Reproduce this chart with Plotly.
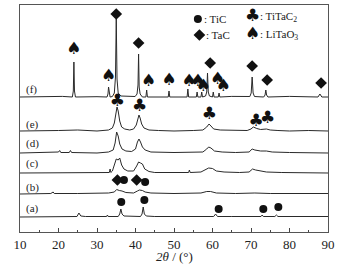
import plotly.graph_objects as go

# ---- data (2theta, intensity above each trace baseline) ----
f_pts = [(10,0),(15,0.6),(18,0.3),(21,0.6),(23.6,0),(23.85,6),(24.0,35),(24.15,6),(24.4,0),(28,0.6),(30,0.3),
         (32.6,0),(32.85,3),(33.0,10),(33.15,3),(33.4,0),(34.0,0.5),(34.5,4),(34.8,20),(35.0,78),(35.2,18),
         (35.5,4),(36.2,1),(39.9,0.5),(40.4,3),(40.65,12),(40.8,43),(40.95,10),(41.2,3),(41.8,0),(42.7,0),
         (42.9,7),(43.1,0),(48.5,0),(48.7,6),(48.9,0),(53.4,0),(53.6,8),(53.8,0),(55.8,0),(56.0,5),(56.2,0),
         (57.0,0),(57.2,5),(57.4,0),(58.2,1),(58.5,5),(58.7,24),(58.9,5),(59.2,1),(60.0,0),(60.2,5),(60.4,0),
         (61.5,0),(61.7,4),(61.9,0),(65,0.6),(69.7,0.5),(70.05,4),(70.3,20),(70.55,4),(70.9,0.5),(73.3,0),
         (73.65,2),(73.85,7),(74.05,2),(74.4,0),(80,0.6),(87.4,0),(87.9,3),(88.4,0),(90,0)]
e_pts = [(10,0),(15,0.6),(20,0.5),(25,1),(30,0),(33,1),(34,3),(34.5,8),(34.9,18),(35.2,24),(35.5,20),
         (35.9,10),(36.4,4),(37.2,2),(38.5,1),(39.5,2),(40.2,6),(40.6,13),(40.9,16),(41.2,13),(41.6,7),
         (42.2,3),(43.5,1),(46,0.5),(50,0),(55,0.5),(57.5,1),(58.5,4),(59.1,7),(59.6,5),(60.3,2),(62,1),
         (65,0.5),(69,0.5),(70,2),(70.6,4),(71.5,2.5),(72.5,1.5),(74,2),(75,1),(77,0.5),(80,0),(85,0.5),(90,0)]
d_pts = [(10,0),(15,0.5),(18,0.5),(20,1),(20.3,2.5),(20.6,0.5),(22.8,0.5),(23.1,2.5),(23.4,0.5),(30,0),
         (33,1),(34.2,3),(34.7,10),(35.1,21),(35.5,17),(35.9,9),(36.5,4),(37.5,2),(39,1.5),(40,4),(40.5,11),
         (40.9,14),(41.3,11),(41.8,6),(42.5,3),(44,1),(50,0.5),(55,0.5),(57.5,1),(58.5,4),(59.0,6),(59.6,5),
         (60.5,2),(62.5,1),(66,0.5),(69.5,1),(70.3,4),(71,3),(72.5,2),(74,2),(75.5,1),(80,0.5),(90,0)]
c_pts = [(10,0),(20,0.5),(25,0),(30,0.5),(33.2,0.5),(33.4,4),(33.6,0.5),(34,2),(34.6,8),(35.0,14),
         (35.5,13),(35.9,15),(36.4,8),(37,4),(38,2),(39.5,2),(40.3,7),(40.8,11),(41.3,10),(41.8,9),(42.4,4),
         (43.5,1.5),(45,0.5),(50,0.5),(53.8,0.5),(54.0,3),(54.2,0.5),(57,1),(58,3),(59,5),(60,4.5),(61,2),
         (63,1),(67,0.5),(69.5,1),(70.4,4),(71.2,3),(72.5,2),(74,1),(78,0.5),(90,0)]
b_pts = [(10,0),(15,0.5),(18,0.5),(18.6,2),(18.9,0.5),(25,0.5),(30,0.5),(33,1),(34.5,2),(35.1,4.5),
         (35.8,3.5),(36.5,3),(37.5,1.5),(39.5,1),(40.5,3),(41,4),(41.8,3.5),(42.5,2),(44,1),(50,0.5),(57,1),
         (58.5,2.5),(59.5,2.5),(61,1),(66,0.5),(70,1.5),(71,1),(75,0.5),(90,0.5)]
a_pts = [(10,0),(20,0),(24.8,0.5),(25.3,4),(25.8,1),(27,0.5),(32.5,0.5),(32.7,2),(32.9,0.5),(35.5,0.5),
         (35.9,3),(36.2,8),(36.5,3),(37,1),(41.3,0.5),(41.7,3),(42.0,10),(42.3,3),(42.8,1),(45,0.5),(55,0.5),
         (60.3,0.5),(60.8,3),(61.3,0.5),(65,0.5),(72.6,0.5),(72.9,2),(73.2,0.5),(76.2,0.5),(76.6,2),(77,0.5),
         (85,0.5),(90,0.5)]

trace_names = ["(a)", "(b)", "(c)", "(d)", "(e)", "(f)"]
trace_pts = [a_pts, b_pts, c_pts, d_pts, e_pts, f_pts]
baselines = [15, 38, 59, 79, 101, 135]
label_y = [24, 45, 69, 89, 108, 143]

# phase markers (2theta, vertical position)
tic_marks = [(37.0, 52), (42.5, 50), (36.3, 30), (42.3, 32), (61.6, 23), (73.2, 23), (77.1, 25)]
tac_marks = [(35.0, 218), (40.8, 189), (59.4, 169), (70.3, 166), (74.2, 152), (88.2, 149), (35.3, 52), (40.3, 52)]
titac_marks = [(35.3, 130), (41.1, 125), (59.2, 117), (71.3, 110), (74.3, 113)]
litao_marks = [(24.0, 182), (33.0, 155), (43.4, 150), (48.7, 151), (53.9, 150), (56.2, 150), (57.6, 145),
               (61.3, 152), (62.8, 145)]

x_ticks = [10, 20, 30, 40, 50, 60, 70, 80, 90]

SYM = "DejaVu Sans"
serif = "Liberation Serif, Times New Roman, serif"
INK = "#111"

fig = go.Figure()
for pts, base in zip(trace_pts, baselines):
    xs = [p[0] for p in pts]
    ys = [p[1] + base for p in pts]
    fig.add_trace(go.Scatter(x=xs, y=ys, mode="lines", line=dict(color="#2a2a2a", width=1),
                             showlegend=False, hoverinfo="skip"))

fig.add_trace(go.Scatter(x=[p[0] for p in tic_marks], y=[p[1] for p in tic_marks], mode="markers",
                         marker=dict(symbol="circle", size=8, color=INK), showlegend=False))
fig.add_trace(go.Scatter(x=[p[0] for p in tac_marks], y=[p[1] for p in tac_marks], mode="markers",
                         marker=dict(symbol="diamond", size=9, color=INK), showlegend=False))
fig.add_trace(go.Scatter(x=[p[0] for p in titac_marks], y=[p[1] for p in titac_marks], mode="text",
                         text=["♣"] * len(titac_marks), textfont=dict(size=17, color=INK, family=SYM),
                         showlegend=False))
fig.add_trace(go.Scatter(x=[p[0] for p in litao_marks], y=[p[1] for p in litao_marks], mode="text",
                         text=["♠"] * len(litao_marks), textfont=dict(size=17, color=INK, family=SYM),
                         showlegend=False))

# legend drawn inside the plot
fig.add_trace(go.Scatter(x=[56.2], y=[213], mode="markers", marker=dict(symbol="circle", size=8, color=INK),
                         showlegend=False))
fig.add_trace(go.Scatter(x=[56.6], y=[197], mode="markers", marker=dict(symbol="diamond", size=9, color=INK),
                         showlegend=False))
fig.add_trace(go.Scatter(x=[70.4, 70.4], y=[215, 197], mode="text", text=["♣", "♠"],
                         textfont=dict(size=17, color=INK, family=SYM), showlegend=False))
legend_items = [(57.4, 213, ": TiC"), (71.8, 215, ": TiTaC<sub>2</sub>"), (57.7, 197, ": TaC"),
                (71.8, 197, ": LiTaO<sub>3</sub>")]
for x, y, t in legend_items:
    fig.add_annotation(x=x, y=y, text=t, showarrow=False, xanchor="left", yanchor="middle",
                       font=dict(family=serif, size=11, color="#222"))

for name, ly in zip(trace_names, label_y):
    fig.add_annotation(x=11.0, y=ly, text=name, showarrow=False, xanchor="left", yanchor="middle",
                       font=dict(family=serif, size=11, color="#222"))

fig.add_annotation(x=0.5, y=-0.11, xref="paper", yref="paper", text="<i>2θ</i> / (°)", showarrow=False,
                   xanchor="center", yanchor="middle", font=dict(family=serif, size=13, color="#222"))

fig.update_xaxes(range=[10, 90], tickvals=x_ticks, ticks="inside", ticklen=4, tickcolor="#444",
                 showline=True, linecolor="#555", linewidth=1, mirror=True, showgrid=False, zeroline=False,
                 minor=dict(ticks="inside", ticklen=2, dtick=5, tickcolor="#444"), automargin=False,
                 tickfont=dict(family=serif, size=13, color="#222"))
fig.update_yaxes(range=[0, 227], showticklabels=False, ticks="", showline=True, linecolor="#555",
                 linewidth=1, mirror=True, showgrid=False, zeroline=False, automargin=False)
fig.update_layout(width=343, height=267, margin=dict(l=20, r=15, t=5, b=35, autoexpand=False),
                  paper_bgcolor="white", plot_bgcolor="white", showlegend=False)
fig.write_html("out.html", config={"displayModeBar": False},
               post_script="document.body.style.margin='0';document.body.style.padding='0';")
